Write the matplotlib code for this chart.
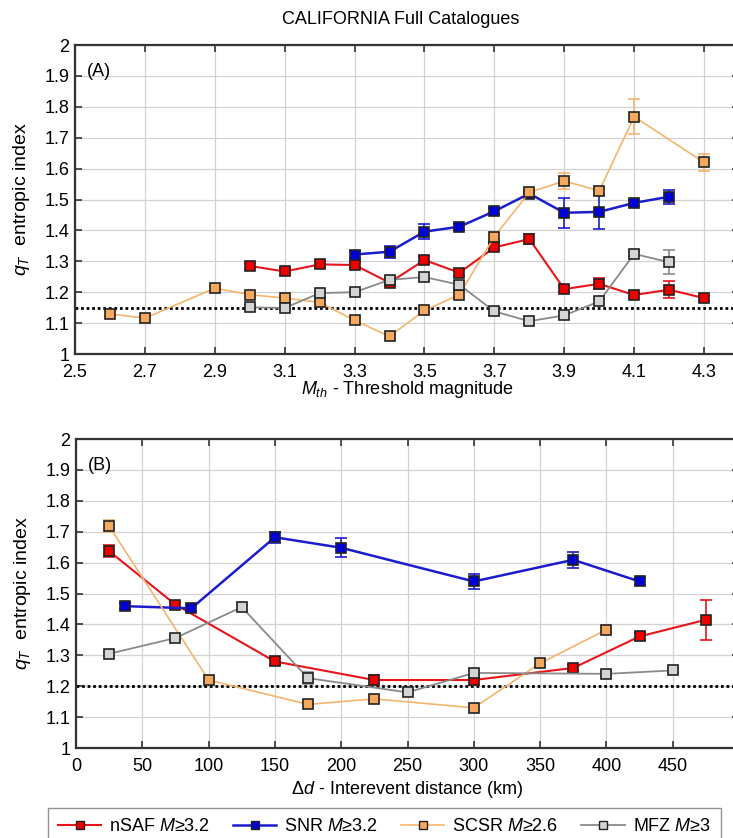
import numpy as np
import matplotlib.pyplot as plt
from matplotlib.lines import Line2D

plt.rcParams['font.family'] = ['Liberation Sans', 'DejaVu Sans']
plt.rcParams['mathtext.fontset'] = 'custom'
plt.rcParams['mathtext.rm'] = 'Liberation Sans'
plt.rcParams['mathtext.it'] = 'Liberation Sans:italic'

# --- (A) q_T vs threshold magnitude ---
mth_nsaf = [3.0, 3.1, 3.2, 3.3, 3.4, 3.5, 3.6, 3.7, 3.8, 3.9, 4.0, 4.1, 4.2, 4.3]
q_nsaf_a = [1.285, 1.267, 1.290, 1.288, 1.231, 1.304, 1.263, 1.345, 1.372, 1.210, 1.227, 1.191, 1.208, 1.181]
e_nsaf_a = [0.01, 0.01, 0.01, 0.01, 0.01, 0.012, 0.01, 0.01, 0.015, 0.01, 0.018, 0.01, 0.028, 0.01]

mth_snr = [3.3, 3.4, 3.5, 3.6, 3.7, 3.8, 3.9, 4.0, 4.1, 4.2]
q_snr_a = [1.322, 1.331, 1.396, 1.412, 1.462, 1.519, 1.457, 1.460, 1.489, 1.509]
e_snr_a = [0.012, 0.02, 0.025, 0.01, 0.01, 0.01, 0.048, 0.055, 0.01, 0.023]

mth_scsr = [2.6, 2.7, 2.9, 3.0, 3.1, 3.2, 3.3, 3.4, 3.5, 3.6, 3.7, 3.8, 3.9, 4.0, 4.1, 4.3]
q_scsr_a = [1.130, 1.116, 1.213, 1.192, 1.181, 1.167, 1.109, 1.057, 1.141, 1.192, 1.380, 1.523, 1.560, 1.528, 1.768, 1.620]
e_scsr_a = [0.008, 0.008, 0.008, 0.008, 0.008, 0.008, 0.008, 0.008, 0.008, 0.008, 0.012, 0.01, 0.025, 0.01, 0.056, 0.028]

mth_mfz = [3.0, 3.1, 3.2, 3.3, 3.4, 3.5, 3.6, 3.7, 3.8, 3.9, 4.0, 4.1, 4.2]
q_mfz_a = [1.151, 1.149, 1.197, 1.200, 1.240, 1.249, 1.224, 1.138, 1.106, 1.125, 1.170, 1.324, 1.297]
e_mfz_a = [0.008, 0.008, 0.008, 0.008, 0.008, 0.008, 0.01, 0.012, 0.008, 0.012, 0.008, 0.008, 0.038]

q_ref_a = 1.15

# --- (B) q_T vs interevent distance ---
dd_nsaf = [25, 75, 150, 225, 300, 375, 425, 475]
q_nsaf_b = [1.637, 1.464, 1.280, 1.220, 1.220, 1.259, 1.361, 1.415]
e_nsaf_b = [0.02, 0.01, 0.01, 0.015, 0.015, 0.01, 0.01, 0.065]

dd_snr = [37, 87, 150, 200, 300, 375, 425]
q_snr_b = [1.459, 1.452, 1.682, 1.648, 1.539, 1.609, 1.539]
e_snr_b = [0.01, 0.01, 0.017, 0.03, 0.025, 0.025, 0.012]

dd_scsr = [25, 100, 175, 225, 300, 350, 400]
q_scsr_b = [1.718, 1.220, 1.141, 1.159, 1.130, 1.274, 1.383]
e_scsr_b = [0.02, 0.008, 0.008, 0.008, 0.008, 0.008, 0.008]

dd_mfz = [25, 75, 125, 175, 250, 300, 400, 450]
q_mfz_b = [1.305, 1.356, 1.456, 1.226, 1.180, 1.243, 1.240, 1.251]
e_mfz_b = [0.008, 0.008, 0.008, 0.02, 0.01, 0.01, 0.008, 0.008]

q_ref_b = 1.2

labels = [r'nSAF $M$≥3.2', r'SNR $M$≥3.2', r'SCSR $M$≥2.6', r'MFZ $M$≥3']
line_cols = ['#e8141b', '#1c1ccf', '#f5b46e', '#8a8a8a']
face_cols = ['#ee0000', '#0000d8', '#f5a85e', '#d4d4d4']
line_w = [1.5, 1.8, 1.2, 1.3]

fig = plt.figure(figsize=(7.33, 8.38), dpi=100)
axA = fig.add_axes([75/733, 1 - 354/838, 664/733, 309/838])
axB = fig.add_axes([76/733, 1 - 748/838, 663/733, 309/838])


def draw_series(ax, x, y, e, k):
    ax.errorbar(x, y, yerr=e, color=line_cols[k], lw=line_w[k], elinewidth=1.2,
                capsize=4, capthick=1.2, marker='s', ms=7.5, mfc=face_cols[k],
                mec='#222222', mew=1.2, zorder=3 + k * 0.1)


for k, (x, y, e) in enumerate([(mth_nsaf, q_nsaf_a, e_nsaf_a), (mth_snr, q_snr_a, e_snr_a),
                                (mth_scsr, q_scsr_a, e_scsr_a), (mth_mfz, q_mfz_a, e_mfz_a)]):
    draw_series(axA, x, y, e, k)

for k, (x, y, e) in enumerate([(dd_nsaf, q_nsaf_b, e_nsaf_b), (dd_snr, q_snr_b, e_snr_b),
                                (dd_scsr, q_scsr_b, e_scsr_b), (dd_mfz, q_mfz_b, e_mfz_b)]):
    draw_series(axB, x, y, e, k)

axA.axhline(q_ref_a, color='black', lw=2, ls=(0, (1, 1)), zorder=2)
axB.axhline(q_ref_b, color='black', lw=2, ls=(0, (1, 1)), zorder=2)

axA.set_xlim(2.5, 4.4)
axA.set_xticks(np.arange(2.5, 4.31, 0.2))
axA.set_xticklabels([f'{v:.1f}' for v in np.arange(2.5, 4.31, 0.2)])
axB.set_xlim(0, 500)
axB.set_xticks(np.arange(0, 451, 50))

for ax in (axA, axB):
    ax.set_ylim(1, 2)
    ax.set_yticks(np.arange(1, 2.01, 0.1))
    ax.set_yticklabels(['1', '1.1', '1.2', '1.3', '1.4', '1.5', '1.6', '1.7', '1.8', '1.9', '2'])
    ax.grid(True, color='#d2d2d2', lw=0.9)
    ax.set_axisbelow(True)
    ax.tick_params(direction='in', top=True, right=True, length=5, width=1.2,
                   labelsize=13, color='#333333')
    ax.tick_params(axis='y', pad=4)
    ax.tick_params(axis='x', pad=7)
    for s in ax.spines.values():
        s.set_linewidth(1.6)
        s.set_color('#333333')
    ax.set_ylabel(r'$q_T$  entropic index', fontsize=14, labelpad=9)

axA.set_xlabel(r'$M_{th}$ - Threshold magnitude', fontsize=13, labelpad=-1)
axB.set_xlabel(r'$\mathit{\Delta d}$ - Interevent distance (km)', fontsize=13, labelpad=3)
axA.set_title('CALIFORNIA Full Catalogues', fontsize=13, pad=15, x=0.49)

axA.text(0.018, 0.915, '(A)', transform=axA.transAxes, fontsize=13, va='center')
axB.text(0.018, 0.915, '(B)', transform=axB.transAxes, fontsize=13, va='center')

handles = [Line2D([], [], color=line_cols[k], lw=line_w[k], marker='s', ms=6,
                  mfc=face_cols[k], mec='#222222', mew=1.0) for k in range(4)]
fig.legend(handles, labels, loc='upper left', bbox_to_anchor=(48/733, 1 - 808/838),
           ncol=4, fontsize=13, frameon=True, fancybox=False, edgecolor='#777777',
           handlelength=2.4, handletextpad=0.45, columnspacing=1.25, borderpad=0.55,
           borderaxespad=0)

plt.savefig('out.png', dpi=100)
